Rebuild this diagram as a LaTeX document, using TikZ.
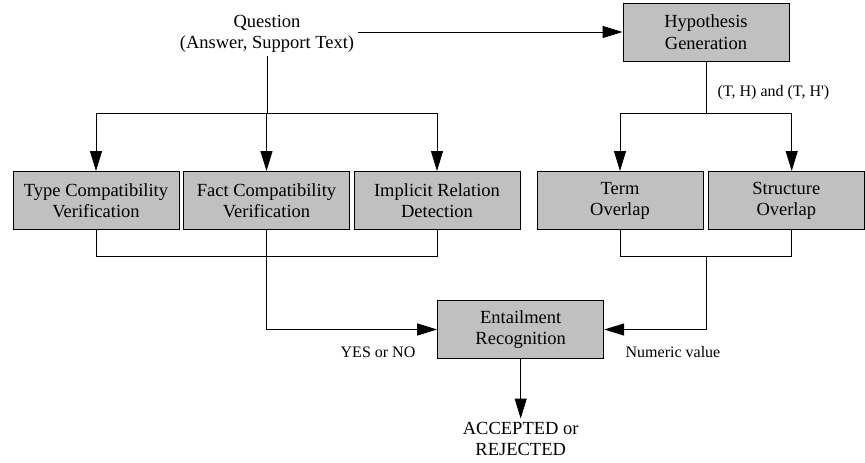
\documentclass[tikz,border=0pt]{standalone}
\usepackage{fontspec}
\setmainfont{Liberation Serif}
\usetikzlibrary{arrows.meta,calc}
\definecolor{boxgray}{RGB}{192,192,192}

\begin{document}
\begin{tikzpicture}[x=1pt,y=-1pt,
  box/.style={draw,fill=boxgray,minimum width=166pt,minimum height=58pt,align=center,inner sep=2pt,
              font=\fontsize{18.5}{21.5}\selectfont},
  txt/.style={align=center,inner sep=3pt,font=\fontsize{18.5}{21.5}\selectfont},
  lbl/.style={inner sep=2pt,font=\fontsize{16}{19}\selectfont},
  arr/.style={-{Triangle[length=20pt,width=12pt]}},
  line width=1pt]
\useasboundingbox (0,0) rectangle (865,463);

% input and hypotheses
\node[txt] (q) at (267,34) {Question\\(Answer, Support Text)};
\node[box] (hyp) at (706,32) {Hypothesis\\Generation};

% checks
\node[box] (type) at (96,200.5) {Type Compatibility\\Verification};
\node[box] (fact) at (266.5,200.5) {Fact Compatibility\\Verification};
\node[box] (impl) at (437,200.5) {Implicit Relation\\Detection};
\node[box] (term) at (620,200.5) {Term\strut\\Overlap\strut};
\node[box,minimum width=156pt] (struct) at (786.3,200.5) {Structure\strut\\Overlap\strut};

% decision
\node[box] (ent) at (520.7,329.5) {Entailment\\Recognition};
\node[txt] (out) at (520.7,439) {ACCEPTED or\\REJECTED};

\coordinate (qsplit) at (267,113);
\coordinate (hsplit) at (706,113);
\coordinate (ljoin) at (267,256);
\coordinate (rjoin) at (706,256);
\coordinate (sarr) at (791.7,113);

\draw[arr] (q.east |- hyp.west) -- (hyp.west);

\draw (q.south) -- (qsplit);
\draw (type.north |- qsplit) -- (impl.north |- qsplit);
\foreach \n in {type,fact,impl}
  \draw[arr] (\n.north |- qsplit) -- (\n.north);

\draw (hyp.south) -- (hsplit);
\node[lbl] (pairs) at (773.5,93) {(T, H) and (T, H\textquotesingle)};
\draw (term.north |- hsplit) -- (sarr);
\draw[arr] (term.north |- hsplit) -- (term.north);
\draw[arr] (sarr) -- (sarr |- struct.north);

\draw (type.south) |- (impl.south |- ljoin) -- (impl.south);
\draw[arr] (fact.south) |- (ent.west);
\draw (term.south) |- (sarr |- rjoin) -- (sarr |- struct.south);
\draw[arr] (rjoin) |- (ent.east);

\node[lbl] (yes) at (378,352) {YES or NO};
\node[lbl] (num) at (673,352) {Numeric value};

\draw[arr] (ent.south) -- (out.north);
\end{tikzpicture}
\end{document}
